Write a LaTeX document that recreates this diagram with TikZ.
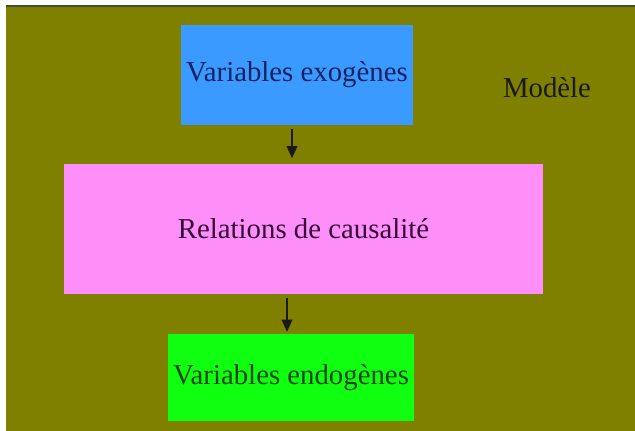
\documentclass[tikz,border=0pt]{standalone}
\usepackage{fontspec}
\setmainfont{Liberation Serif}
\usetikzlibrary{arrows.meta}
\definecolor{olivebg}{RGB}{128,128,0}
\definecolor{exoblue}{RGB}{58,154,255}
\definecolor{relpink}{RGB}{255,143,248}
\definecolor{endogreen}{RGB}{16,255,16}
\definecolor{topline}{RGB}{70,80,40}
\definecolor{exotext}{RGB}{22,34,96}
\definecolor{reltext}{RGB}{50,14,56}
\definecolor{endotext}{RGB}{14,70,14}
\tikzset{
  box/.style={rectangle, inner sep=0pt, font=\fontsize{21.6}{26}\selectfont},
  arr/.style={-{Triangle[width=8pt,length=9pt]}, line width=1pt, black!90}
}
\begin{document}
\begin{tikzpicture}[x=0.75pt,y=-0.75pt]
\useasboundingbox (0,0) rectangle (635,431);
\fill[white] (0,0) rectangle (635,431);
\fill[olivebg] (6,6) rectangle (635,431);
\draw[topline, line width=1.2pt] (6,6) -- (635,6);
\node[box, fill=exoblue, text=exotext, minimum width=232*0.75pt, minimum height=100*0.75pt] (exo) at (297,75) {Variables exogènes};
\node[box, fill=relpink, text=reltext, minimum width=479*0.75pt, minimum height=129*0.75pt] (rel) at (303.5,229) {Relations de causalité};
\node[box, fill=endogreen, text=endotext, minimum width=246*0.75pt, minimum height=87*0.75pt] (endo) at (291,377.5) {Variables endogènes};
\node[box, text=black!90] (mod) at (547,88) {Modèle};
\coordinate (a1) at (292,0);
\coordinate (a2) at (287,0);
\draw[arr, shorten <=4*0.75pt, shorten >=6*0.75pt] (exo.south -| a1) -- (rel.north -| a1);
\draw[arr, shorten <=4*0.75pt, shorten >=2*0.75pt] (rel.south -| a2) -- (endo.north -| a2);
\end{tikzpicture}
\end{document}
